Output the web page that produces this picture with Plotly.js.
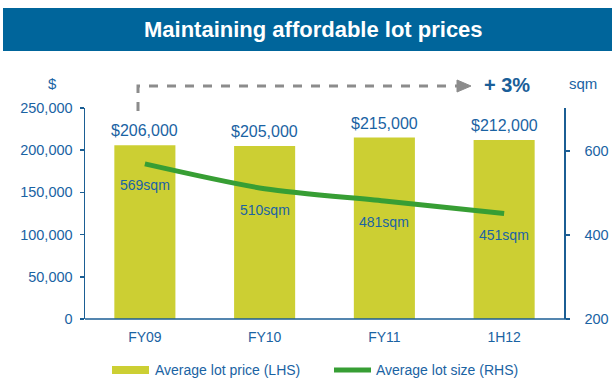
<!DOCTYPE html>
<html>
<head>
<meta charset="utf-8">
<script src="https://cdn.plot.ly/plotly-3.0.1.min.js"></script>
<style>html,body{margin:0;padding:0;background:#fff}#chart{width:615px;height:388px}</style>
</head>
<body>
<div id="chart"></div>
<script>
var categories = ["FY09", "FY10", "FY11", "1H12"];
var lotPrice = [206000, 205000, 215000, 212000];
var lotSize = [569, 510, 481, 451];
var seriesNames = ["Average lot price (LHS)", "Average lot size (RHS)"];
var leftTicks = [0, 50000, 100000, 150000, 200000, 250000];
var rightTicks = [200, 400, 600];
var chartTitle = "Maintaining affordable lot prices";
var changeLabel = "+ 3%";

var W = 615, H = 388;
var L = 85, R = 564, T = 108, B = 319;
function px(x){ return (x - L) / (R - L); }
function py(y){ return (B - y) / (B - T); }

var txtBlue = "#1a63a3";
var axisBlue = "#1b5e94";
var barColor = "#cccf33";
var lineColor = "#379e34";
var fontFam = "Liberation Sans, Arial, sans-serif";

var fmt = function(v){ return "$" + v.toLocaleString("en-US"); };

var traces = [
  {type: "bar", x: categories, y: lotPrice, name: seriesNames[0],
   marker: {color: barColor, line: {width: 0}}, yaxis: "y", hoverinfo: "none"},
  {type: "scatter", mode: "lines", x: categories, y: lotSize, name: seriesNames[1],
   line: {color: lineColor, width: 5, shape: "spline", smoothing: 0.8}, yaxis: "y2", hoverinfo: "none"}
];

var annotations = [];
categories.forEach(function(c, i){
  annotations.push({x: c, y: lotPrice[i], xref: "x", yref: "y", text: fmt(lotPrice[i]),
    showarrow: false, yanchor: "bottom", yshift: 4, font: {family: fontFam, size: 16, color: txtBlue}});
  annotations.push({x: c, y: lotSize[i], xref: "x", yref: "y2", text: lotSize[i] + "sqm",
    showarrow: false, yanchor: "middle", yshift: -21, font: {family: fontFam, size: 14, color: txtBlue}});
});
annotations.push({x: px(313), y: py(30), xref: "paper", yref: "paper", text: "<b>" + chartTitle + "</b>",
  showarrow: false, xanchor: "center", yanchor: "middle", font: {family: fontFam, size: 22, color: "#ffffff"}});
annotations.push({x: px(507), y: py(85), xref: "paper", yref: "paper", text: "<b>" + changeLabel + "</b>",
  showarrow: false, xanchor: "center", yanchor: "middle", font: {family: fontFam, size: 20, color: "#1a5e98"}});
annotations.push({x: px(583), y: py(83), xref: "paper", yref: "paper", text: "sqm",
  showarrow: false, xanchor: "center", yanchor: "middle", font: {family: fontFam, size: 15, color: txtBlue}});
annotations.push({x: px(52), y: py(83), xref: "paper", yref: "paper", text: "$",
  showarrow: false, xanchor: "center", yanchor: "middle", font: {family: fontFam, size: 15, color: txtBlue}});
// legend text
annotations.push({x: px(153), y: py(370), xref: "paper", yref: "paper", text: seriesNames[0],
  showarrow: false, xanchor: "left", yanchor: "middle", font: {family: fontFam, size: 14, color: txtBlue}});
annotations.push({x: px(374), y: py(370), xref: "paper", yref: "paper", text: seriesNames[1],
  showarrow: false, xanchor: "left", yanchor: "middle", font: {family: fontFam, size: 14, color: txtBlue}});

var shapes = [
  {type: "rect", xref: "paper", yref: "paper", x0: px(3), x1: px(612), y0: py(51), y1: py(8),
   fillcolor: "#00659b", line: {width: 0}, layer: "below"},
  {type: "path", xref: "paper", yref: "paper",
   path: "M" + px(138) + "," + py(111) + " L" + px(138) + "," + py(86) + " L" + px(458) + "," + py(86),
   line: {color: "#8c8c8c", width: 3, dash: "dash"}},
  {type: "path", xref: "paper", yref: "paper",
   path: "M" + px(457) + "," + py(80) + " L" + px(471) + "," + py(86) + " L" + px(457) + "," + py(92) + " Z",
   fillcolor: "#8c8c8c", line: {color: "#8c8c8c", width: 1}},
  {type: "line", xref: "paper", yref: "paper", x0: 0, x1: px(569), y0: 0, y1: 0,
   line: {color: axisBlue, width: 1.5}},
  {type: "rect", xref: "paper", yref: "paper", x0: px(112), x1: px(149), y0: py(374), y1: py(366),
   fillcolor: barColor, line: {width: 0}},
  {type: "line", xref: "paper", yref: "paper", x0: px(334), x1: px(371), y0: py(370), y1: py(370),
   line: {color: lineColor, width: 5}}
];

var layout = {
  width: W, height: H,
  margin: {l: L, r: W - R, t: T, b: H - B, pad: 0},
  paper_bgcolor: "#ffffff", plot_bgcolor: "#ffffff",
  showlegend: false,
  bargap: 0.49,
  font: {family: fontFam, size: 14, color: txtBlue},
  xaxis: {type: "category", showgrid: false, zeroline: false, showline: false,
    ticks: "", ticklabelstandoff: 8, tickfont: {family: fontFam, size: 14, color: txtBlue}, fixedrange: true},
  yaxis: {range: [0, 250000], tickvals: leftTicks, ticktext: leftTicks.map(function(v){return v.toLocaleString("en-US");}),
    showgrid: false, zeroline: false, showline: true, linecolor: axisBlue, linewidth: 1.5,
    ticks: "outside", ticklen: 4, tickcolor: axisBlue, tickwidth: 1.5, ticklabelstandoff: 4,
    tickfont: {family: fontFam, size: 14.5, color: txtBlue}, fixedrange: true},
  yaxis2: {range: [200, 702], tickvals: rightTicks, overlaying: "y", side: "right",
    showgrid: false, zeroline: false, showline: true, linecolor: axisBlue, linewidth: 1.5,
    ticks: "outside", ticklen: 4, tickcolor: axisBlue, tickwidth: 1.5, ticklabelstandoff: 12,
    tickfont: {family: fontFam, size: 14.5, color: txtBlue}, fixedrange: true},
  annotations: annotations,
  shapes: shapes
};

Plotly.newPlot("chart", traces, layout, {displayModeBar: false, staticPlot: true});
</script>
</body>
</html>
